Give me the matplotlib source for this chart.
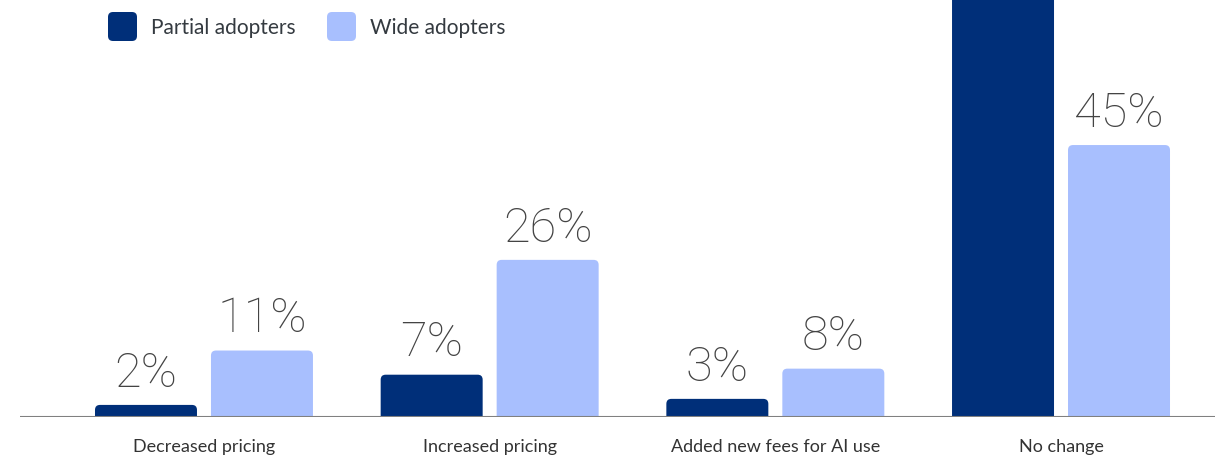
import matplotlib
matplotlib.use("Agg")
import matplotlib.pyplot as plt
from matplotlib.patches import FancyBboxPatch
import numpy as np

categories = ["Decreased pricing", "Increased pricing", "Added new fees for AI use", "No change"]
partial = [2, 7, 3, 88]
wide = [11, 26, 8, 45]
series_names = ["Partial adopters", "Wide adopters"]

NAVY = "#002F79"
LIGHT = "#A8BFFE"
TEXT = "#444444"

W, H, DPI = 1215, 455, 100
fig = plt.figure(figsize=(W / DPI, H / DPI), dpi=DPI)
ax = fig.add_axes([20 / W, 38 / H, 1 - 20 / W, 417 / H])

x = np.arange(len(categories))
bw, off = 0.357, 0.203
ax.set_xlim(-0.644, 3.539)
ax.set_ylim(0, 69)

# px per data unit, used to keep the corner radius round
px_x = ax.bbox.width / (ax.get_xlim()[1] - ax.get_xlim()[0])
px_y = ax.bbox.height / (ax.get_ylim()[1] - ax.get_ylim()[0])
r_px = 5
rx = r_px / px_x
ry = r_px / px_y


def rounded_bars(xs, vals, color):
    for xc, v in zip(xs, vals):
        p = FancyBboxPatch((xc - bw / 2, -ry), bw, v + ry,
                           boxstyle=f"round,pad=0,rounding_size={rx}",
                           mutation_aspect=ry / rx, fc=color, ec="none", zorder=2)
        ax.add_patch(p)
        ax.annotate(f"{v}%", (xc, v), xytext=(0, 6), textcoords="offset points",
                    ha="center", va="bottom", fontsize=35, color=TEXT,
                    family="Roboto", fontweight="light", clip_on=True,
                    annotation_clip=True)


rounded_bars(x - off, partial, NAVY)
rounded_bars(x + off, wide, LIGHT)

ax.axhline(0, color="#808080", lw=1.5, zorder=3)
for s in ax.spines.values():
    s.set_visible(False)
ax.set_yticks([])
ax.set_xticks(x)
ax.set_xticklabels(categories, fontsize=13, color="#333333", family="Lato")
ax.tick_params(axis="x", length=0, pad=16)

# legend: rounded swatches + labels
for (x0, name, col) in [(108, series_names[0], NAVY), (327, series_names[1], LIGHT)]:
    sw = FancyBboxPatch((x0 / W, (H - 41) / H), 29 / W, 29 / H,
                        boxstyle=f"round,pad=0,rounding_size={5 / W}",
                        mutation_aspect=W / H, transform=fig.transFigure,
                        fc=col, ec="none")
    fig.patches.append(sw)
    fig.text((x0 + 43) / W, (H - 28) / H, name, fontsize=15, color="#343a40",
             family="Lato", va="center", ha="left")

fig.savefig("out.png", dpi=DPI)
